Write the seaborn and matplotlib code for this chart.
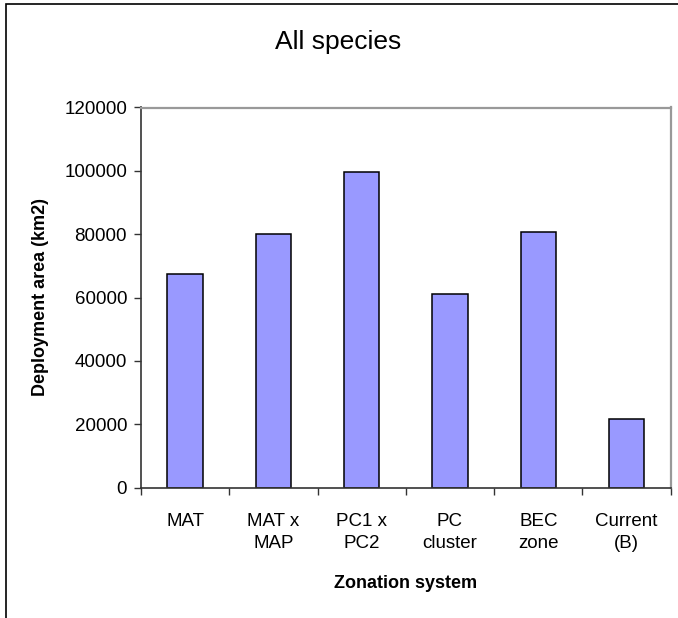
import numpy as np
import pandas as pd
import matplotlib
matplotlib.use("Agg")
import matplotlib.pyplot as plt
import seaborn as sns
from matplotlib.patches import Rectangle

categories = ["MAT", "MAT x\nMAP", "PC1 x\nPC2", "PC\ncluster", "BEC\nzone", "Current\n(B)"]
areas = [67300, 80000, 99700, 61000, 80600, 21600]
yticks = [0, 20000, 40000, 60000, 80000, 100000, 120000]

df = pd.DataFrame({"Zonation system": categories, "Area": areas})

sns.set_style("white")
plt.rcParams["font.family"] = ["Liberation Sans", "DejaVu Sans"]
plt.rcParams["text.color"] = "black"
plt.rcParams["axes.labelcolor"] = "black"
plt.rcParams["xtick.color"] = "black"
plt.rcParams["ytick.color"] = "black"

fig = plt.figure(figsize=(6.78, 6.18), dpi=100)
ax = fig.add_axes([141 / 678, 1 - 487.5 / 618, (670.7 - 141) / 678, (487.5 - 107.5) / 618])

sns.barplot(data=df, x="Zonation system", y="Area", color="#9999FF",
            saturation=1, edgecolor="black", linewidth=1.1, width=0.4, ax=ax)

ax.set_xlim(-0.5, len(categories) - 0.5)
ax.set_ylim(0, 120000)
ax.set_yticks(yticks)
ax.set_yticklabels([str(v) for v in yticks], fontsize=13.5)
ax.tick_params(axis="y", direction="out", length=5, width=1, color="#333333", pad=5, left=True)

# category labels centred, tick marks between categories
ax.set_xticks(range(len(categories)))
ax.set_xticklabels(categories, fontsize=13.5, linespacing=1.4)
ax.tick_params(axis="x", which="major", length=0, pad=18)
ax.set_xticks(np.arange(-0.5, len(categories), 1), minor=True)
ax.tick_params(axis="x", which="minor", direction="out", length=5, width=1,
               color="#333333", bottom=True)

for side in ["left", "bottom"]:
    ax.spines[side].set_color("#333333")
    ax.spines[side].set_linewidth(1.2)
for side in ["top", "right"]:
    ax.spines[side].set_visible(True)
    ax.spines[side].set_color("#999999")
    ax.spines[side].set_linewidth(1.6)

ax.set_xlabel("Zonation system", fontsize=13, fontweight="bold", labelpad=17)
ax.set_ylabel("Deployment area (km2)", fontsize=13, fontweight="bold", labelpad=11)

fig.text(338 / 678, 1 - 42 / 618, "All species", fontsize=19, ha="center", va="center")

# outer chart border (right and bottom edges fall outside the image)
fig.patches.append(Rectangle((6 / 678, -0.1), 1.5, 1 - 4 / 618 + 0.1,
                             transform=fig.transFigure, fill=False,
                             edgecolor="black", linewidth=1.2))

fig.savefig("out.png", dpi=100)
